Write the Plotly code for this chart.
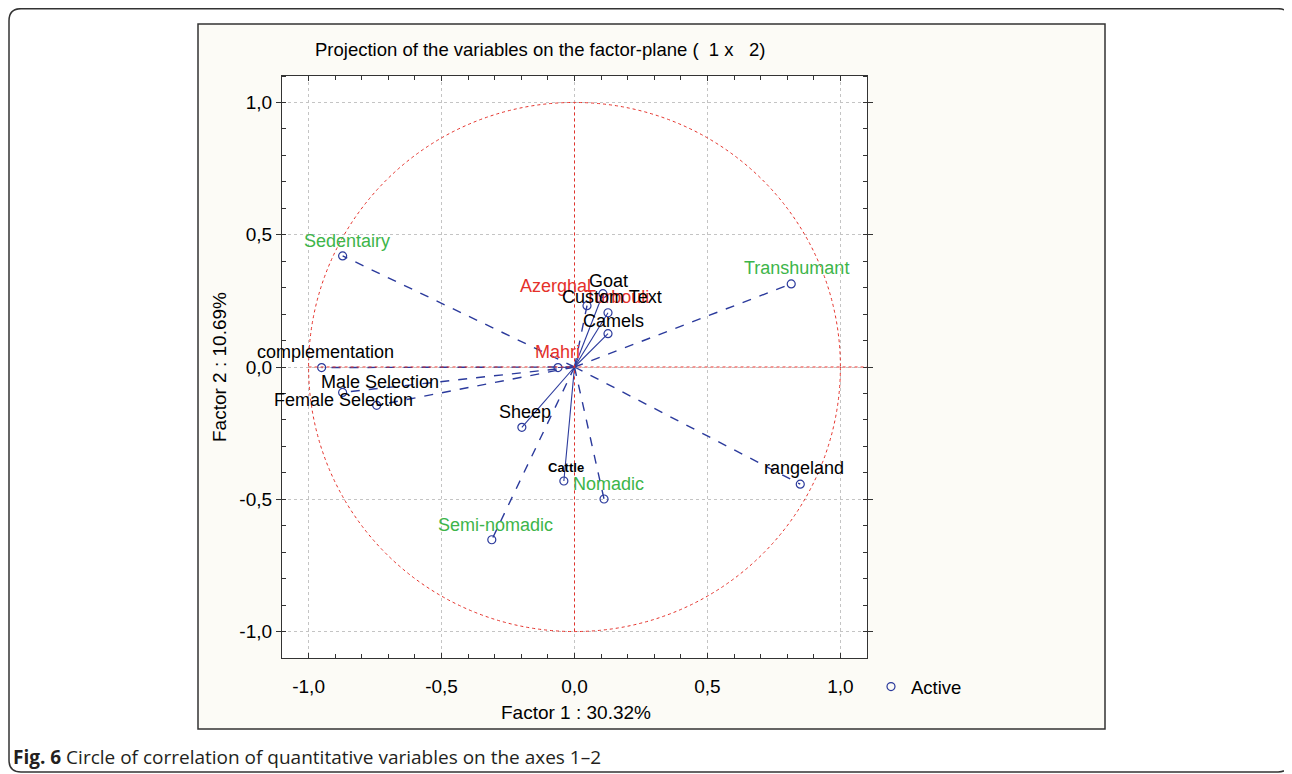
import plotly.graph_objects as go

# ---- data ----
variables = ["Sedentairy", "Transhumant", "complementation", "Male Selection", "Female Selection",
             "Sheep", "Cattle", "Nomadic", "Semi-nomadic", "rangeland",
             "Goat", "Turbouli", "Camels", "Azerghal", "Mahri"]
factor1 = [-0.872, 0.815, -0.951, -0.872, -0.744,
           -0.198, -0.040, 0.111, -0.311, 0.849,
           0.107, 0.126, 0.126, 0.047, -0.062]
factor2 = [0.420, 0.314, -0.002, -0.096, -0.145,
           -0.228, -0.431, -0.499, -0.653, -0.443,
           0.277, 0.205, 0.126, 0.232, -0.002]
groups = ["mode", "mode", "practice", "practice", "practice",
          "species", "species", "mode", "mode", "practice",
          "species", "breed", "species", "breed", "breed"]
tick_vals = [-1.0, -0.5, 0.0, 0.5, 1.0]
tick_text = ["-1,0", "-0,5", "0,0", "0,5", "1,0"]
extra_label = ("Custom Text", "Turbouli")

# ---- styles (positions given in page pixels; page body has an 8px margin) ----
OFF = 8
W, H = 1292 - OFF, 774 - OFF
PL, PR, PT, PB = 282, 867, 76, 658          # plot area in page pixels
BLUE = "#2B3A9C"
RED = "#E5312A"
GREEN = "#3DB54A"
FONT = "Liberation Sans, Arial, sans-serif"
group_color = {"mode": GREEN, "practice": "black", "species": "black", "breed": RED}
solid_vars = {"Sheep", "Cattle", "Goat", "Camels", "Turbouli", "Mahri"}
label_shift = {
    "Sedentairy": (4, 15), "Transhumant": (5, 16), "complementation": (4, 16),
    "Male Selection": (37, 10), "Female Selection": (-33, 5), "Sheep": (3, 15),
    "Cattle": (2, 14), "Nomadic": (4, 15), "Semi-nomadic": (4, 15), "rangeland": (4, 16),
    "Goat": (6, 13), "Turbouli": (9, 16), "Camels": (5, 13), "Azerghal": (-32, 20),
    "Mahri": (-1, 16), "Custom Text": (4, 16),
}


def fx(px):
    return (px - PL) / (PR - PL)


def fy(py):
    return (PB - py) / (PB - PT)


fig = go.Figure()

# vectors
for name, x, y in zip(variables, factor1, factor2):
    fig.add_trace(go.Scatter(
        x=[0, x], y=[0, y], mode="lines", showlegend=False, hoverinfo="skip",
        line=dict(color=BLUE, width=1.1 if name in solid_vars else 1.4,
                  dash="solid" if name in solid_vars else "dash")))

# points
fig.add_trace(go.Scatter(
    x=factor1, y=factor2, mode="markers", name="Active", text=variables,
    marker=dict(symbol="circle-open", size=8, color=BLUE, line=dict(width=1.2, color=BLUE))))

# labels
annotations = []
for name, x, y, g in zip(variables, factor1, factor2, groups):
    dx, dy = label_shift[name]
    bold = name == "Cattle"
    annotations.append(dict(
        x=x, y=y, xref="x", yref="y", text=f"<b>{name}</b>" if bold else name,
        showarrow=False, xshift=dx, yshift=dy, xanchor="center", yanchor="middle",
        font=dict(family=FONT, size=13 if bold else 18, color=group_color[g])))
i = variables.index(extra_label[1])
dx, dy = label_shift[extra_label[0]]
annotations.append(dict(x=factor1[i], y=factor2[i], xref="x", yref="y", text=extra_label[0],
                        showarrow=False, xshift=dx, yshift=dy, xanchor="center", yanchor="middle",
                        font=dict(family=FONT, size=18, color="black")))

# titles / caption
annotations += [
    dict(x=fx(540), y=fy(50), xref="paper", yref="paper", showarrow=False,
         xanchor="center", yanchor="middle",
         text="Projection of the variables on the factor-plane (\u00a0\u00a01 x \u00a0\u00a02)",
         font=dict(family=FONT, size=18.5, color="black")),
    dict(x=fx(576), y=fy(712), xref="paper", yref="paper", showarrow=False,
         xanchor="center", yanchor="middle",
         text="Factor 1 : 30.32%", font=dict(family=FONT, size=19, color="black")),
    dict(x=fx(219), y=fy(367), xref="paper", yref="paper", showarrow=False, textangle=-90,
         xanchor="center", yanchor="middle",
         text="Factor 2 : 10.69%", font=dict(family=FONT, size=19, color="black")),
    dict(x=fx(11), y=fy(757), xref="paper", yref="paper", showarrow=False,
         xanchor="left", yanchor="middle",
         text="<b>Fig. 6</b> Circle of correlation of quantitative variables on the axes 1\u20132",
         font=dict(family="Open Sans, sans-serif", size=19, color="#231F20")),
]

# shapes: outer frame, panel, plot area bg, unit circle and axes
r = 12
x0, x1, y0, y1 = 9, 1290, 8.7, 772
path = (f"M {fx(x0)},{fy(y0 + r)} Q {fx(x0)},{fy(y0)} {fx(x0 + r)},{fy(y0)} "
        f"L {fx(x1 - r)},{fy(y0)} Q {fx(x1)},{fy(y0)} {fx(x1)},{fy(y0 + r)} "
        f"L {fx(x1)},{fy(y1 - r)} Q {fx(x1)},{fy(y1)} {fx(x1 - r)},{fy(y1)} "
        f"L {fx(x0 + r)},{fy(y1)} Q {fx(x0)},{fy(y1)} {fx(x0)},{fy(y1 - r)} Z")
shapes = [
    dict(type="path", path=path, xref="paper", yref="paper", layer="below",
         line=dict(color="#333333", width=1.5), fillcolor="white"),
    dict(type="rect", xref="paper", yref="paper", x0=fx(198), x1=fx(1105), y0=fy(24), y1=fy(729),
         layer="below", line=dict(color="#333333", width=1.5), fillcolor="#FCFBF6"),
    dict(type="rect", xref="paper", yref="paper", x0=0, x1=1, y0=0, y1=1,
         layer="below", line=dict(width=0), fillcolor="white"),
    dict(type="circle", xref="x", yref="y", x0=-1, x1=1, y0=-1, y1=1,
         line=dict(color=RED, width=1, dash="dot")),
    dict(type="line", xref="x", yref="y", x0=0, x1=0, y0=-1, y1=1,
         line=dict(color=RED, width=1, dash="dot")),
    dict(type="line", xref="x", yref="y", x0=-1, x1=1.1, y0=0, y1=0,
         line=dict(color=RED, width=1, dash="dot")),
]

axis_common = dict(
    range=[-1.1, 1.1], tickmode="array", tickvals=tick_vals, ticktext=tick_text,
    showgrid=True, gridcolor="#C4C4C4", griddash="dot", gridwidth=1, zeroline=False,
    showline=True, linecolor="#333333", linewidth=1.2, mirror="allticks",
    ticklen=5, tickcolor="#333333",
    tickfont=dict(family=FONT, size=19, color="black"),
    minor=dict(dtick=0.1, tick0=0, ticks="inside", ticklen=4, tickcolor="#333333", showgrid=False),
)

fig.update_layout(
    width=W, height=H,
    margin=dict(l=PL - OFF, r=W - (PR - OFF), t=PT - OFF, b=H - (PB - OFF), pad=0),
    paper_bgcolor="white", plot_bgcolor="white",
    xaxis=dict(**axis_common, ticks="inside", ticklabelstandoff=11),
    yaxis=dict(**axis_common, ticks="outside", ticklabelstandoff=0),
    showlegend=True,
    legend=dict(x=fx(871), y=fy(687), xanchor="left", yanchor="middle",
                bgcolor="rgba(0,0,0,0)", font=dict(family=FONT, size=18.5, color="black"),
                itemwidth=30),
    annotations=annotations, shapes=shapes,
)

fig.write_html("out.html")
